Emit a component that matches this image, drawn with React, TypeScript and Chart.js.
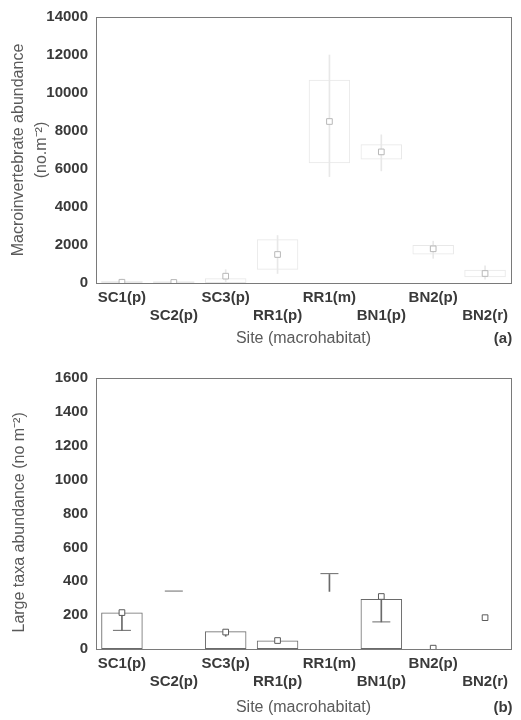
import React, { useEffect, useRef } from "react";
import { Chart, registerables } from "chart.js";
Chart.register(...registerables);

// ---------- data ----------
const sites = ["SC1(p)", "SC2(p)", "SC3(p)", "RR1(p)", "RR1(m)", "BN1(p)", "BN2(p)", "BN2(r)"];

// Panel (a): macroinvertebrate abundance (no. m-2)
const aTickValues = [0, 2000, 4000, 6000, 8000, 10000, 12000, 14000];
const aMeans = [40, 30, 360, 1500, 8500, 6900, 1800, 500];
const aBoxLow = [0, 0, 0, 700, 6300, 6500, 1500, 300];
const aBoxHigh = [120, 90, 250, 2300, 10700, 7300, 2000, 700];
const aWhiskerLow = [0, 0, 0, 500, 5600, 5900, 1300, 200];
const aWhiskerHigh = [200, 150, 700, 2500, 12000, 7800, 2200, 900];
const aCapLow: (number | null)[] = [null, null, null, null, null, null, null, null];
const aCapHigh: (number | null)[] = [null, null, null, null, null, null, null, null];

// Panel (b): large taxa abundance (no. m-2)
const bTickValues = [0, 200, 400, 600, 800, 1000, 1200, 1400, 1600];
const bMeans = [215, null, 100, 50, null, 310, 5, 185];
const bBoxLow = [0, null, 0, 0, null, 0, null, null];
const bBoxHigh = [215, null, 105, 50, null, 295, null, null];
const bWhiskerLow = [110, null, 75, null, 340, 160, null, null];
const bWhiskerHigh = [215, null, 105, null, 440, 310, null, null];
const bCapLow = [110, null, null, null, null, 160, null, null];
const bCapHigh = [null, 342, null, null, 445, null, null, null];

const staggered = sites.map((s, i) => (i % 2 === 0 ? [s, ""] : ["", s]));

const pair = (lo: (number | null)[], hi: (number | null)[]) =>
  lo.map((l, i) => (l === null || hi[i] === null ? null : [l, hi[i] as number]));

type Panel = {
  ticks: number[];
  means: (number | null)[];
  boxLow: (number | null)[];
  boxHigh: (number | null)[];
  wLow: (number | null)[];
  wHigh: (number | null)[];
  capLow: (number | null)[];
  capHigh: (number | null)[];
  yTitle: string | string[];
  yTitleLineHeight: number;
  yTitlePadTop: number;
  lineColor: string;
  markColor: string;
  padTop: number;
  padBottom: number;
  xAxisHeight: number;
};

const FRAME = "#7a7a7a";
const TICK_COLOR = "#3a3a3a";
const TITLE_COLOR = "#5a5a5a";
const FONT = "'Liberation Sans', Arial, sans-serif";

function buildConfig(p: Panel): any {
  const capDs = (vals: (number | null)[]) => ({
    type: "line",
    data: vals,
    showLine: false,
    pointStyle: "line",
    pointRadius: 9,
    pointBorderWidth: 1,
    pointBorderColor: p.lineColor,
    pointBackgroundColor: p.lineColor,
    borderColor: p.lineColor,
    order: 0,
  });
  return {
    type: "bar",
    data: {
      labels: staggered,
      datasets: [
        {
          type: "bar",
          data: pair(p.boxLow, p.boxHigh),
          grouped: false,
          barPercentage: 0.8,
          categoryPercentage: 1,
          backgroundColor: "rgba(255,255,255,0)",
          borderColor: p.lineColor,
          borderWidth: 1,
          borderSkipped: false,
          order: 3,
        },
        {
          type: "bar",
          data: pair(p.wLow, p.wHigh),
          grouped: false,
          barThickness: 1,
          backgroundColor: p.lineColor,
          borderWidth: 0,
          order: 2,
        },
        capDs(p.capLow),
        capDs(p.capHigh),
        {
          type: "line",
          data: p.means,
          showLine: false,
          pointStyle: "rect",
          pointRadius: 4,
          pointBorderWidth: 1,
          pointBorderColor: p.markColor,
          pointBackgroundColor: "#ffffff",
          borderColor: p.markColor,
          order: 0,
        },
      ],
    },
    options: {
      animation: false,
      responsive: false,
      maintainAspectRatio: false,
      layout: { padding: { top: p.padTop, right: 8, bottom: p.padBottom, left: 0 } },
      plugins: { legend: { display: false }, tooltip: { enabled: false } },
      scales: {
        x: {
          type: "category",
          offset: true,
          grid: { display: false, drawTicks: false },
          border: { display: true, color: FRAME, width: 1 },
          ticks: {
            autoSkip: false,
            maxRotation: 0,
            minRotation: 0,
            padding: 5,
            color: TICK_COLOR,
            font: { family: FONT, size: 15, weight: "bold", lineHeight: 1.25 },
          },
          title: {
            display: true,
            text: "Site (macrohabitat)",
            color: TITLE_COLOR,
            padding: { top: 0, bottom: 0 },
            font: { family: FONT, size: 16, lineHeight: 1.2 },
          },
          afterFit: (s: any) => {
            s.height = p.xAxisHeight;
          },
        },
        xTop: {
          type: "linear",
          position: "top",
          min: 0,
          max: 1,
          grid: { display: false, drawTicks: false },
          border: { display: true, color: FRAME, width: 1 },
          ticks: { display: false },
          afterFit: (s: any) => {
            s.height = 0;
          },
        },
        y: {
          type: "linear",
          min: p.ticks[0],
          max: p.ticks[p.ticks.length - 1],
          grid: { display: false, drawTicks: false },
          border: { display: true, color: FRAME, width: 1 },
          ticks: {
            stepSize: p.ticks[1] - p.ticks[0],
            padding: 8,
            color: TICK_COLOR,
            font: { family: FONT, size: 15, weight: "bold" },
            callback: (v: any) => String(v),
          },
          title: {
            display: true,
            text: p.yTitle,
            color: TITLE_COLOR,
            padding: { top: p.yTitlePadTop, bottom: 0 },
            font: { family: FONT, size: 16, lineHeight: p.yTitleLineHeight },
          },
          afterFit: (s: any) => {
            s.width = 96;
          },
        },
        yRight: {
          type: "linear",
          position: "right",
          min: 0,
          max: 1,
          grid: { display: false, drawTicks: false },
          border: { display: true, color: FRAME, width: 1 },
          ticks: { display: false },
          afterFit: (s: any) => {
            s.width = 0;
          },
        },
      },
    },
  };
}

const panelA: Panel = {
  ticks: aTickValues,
  means: aMeans,
  boxLow: aBoxLow,
  boxHigh: aBoxHigh,
  wLow: aWhiskerLow,
  wHigh: aWhiskerHigh,
  capLow: aCapLow,
  capHigh: aCapHigh,
  yTitle: ["Macroinvertebrate abundance", "(no.m\u207B\u00B2)"],
  yTitleLineHeight: 1.44,
  yTitlePadTop: 7,
  lineColor: "#e8e8e8",
  markColor: "#b8b8b8",
  padTop: 12,
  padBottom: 0,
  xAxisHeight: 65,
};

const panelB: Panel = {
  ticks: bTickValues,
  means: bMeans,
  boxLow: bBoxLow,
  boxHigh: bBoxHigh,
  wLow: bWhiskerLow,
  wHigh: bWhiskerHigh,
  capLow: bCapLow,
  capHigh: bCapHigh,
  yTitle: "Large taxa abundance (no m\u207B\u00B2)    ",
  yTitleLineHeight: 1.2,
  yTitlePadTop: 10,
  lineColor: "#6a6a6a",
  markColor: "#5a5a5a",
  padTop: 30,
  padBottom: 3,
  xAxisHeight: 68,
};

function ChartCanvas({ panel, width, height }: { panel: Panel; width: number; height: number }) {
  const ref = useRef<HTMLCanvasElement | null>(null);
  useEffect(() => {
    if (!ref.current) return;
    const chart = new Chart(ref.current, buildConfig(panel));
    return () => chart.destroy();
  }, [panel]);
  return <canvas ref={ref} width={width} height={height} style={{ display: "block", width, height }} />;
}

const tagStyle: React.CSSProperties = {
  position: "absolute",
  left: 493,
  width: 20,
  textAlign: "center",
  fontFamily: FONT,
  fontWeight: "bold",
  fontSize: 15,
  lineHeight: "18px",
  color: "#3a3a3a",
};

export default function App() {
  return (
    <div style={{ position: "absolute", left: 0, top: 0, width: 521, height: 720, background: "#ffffff" }}>
      <div style={{ position: "absolute", left: 0, top: 0 }}>
        <ChartCanvas panel={panelA} width={521} height={348} />
      </div>
      <div style={{ position: "absolute", left: 0, top: 348 }}>
        <ChartCanvas panel={panelB} width={521} height={372} />
      </div>
      <div style={{ ...tagStyle, top: 329 }}>(a)</div>
      <div style={{ ...tagStyle, top: 698 }}>(b)</div>
    </div>
  );
}
